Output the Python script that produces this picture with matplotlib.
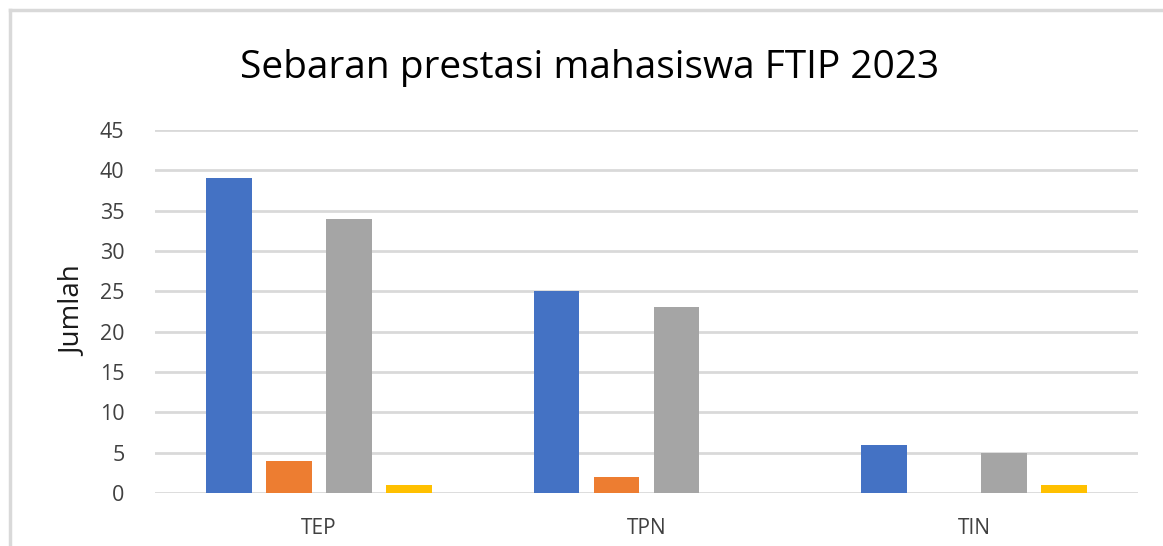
import matplotlib
matplotlib.use("Agg")
import matplotlib.pyplot as plt
from matplotlib.lines import Line2D
import numpy as np

categories = ["TEP", "TPN", "TIN"]
series_blue = [39, 25, 6]
series_orange = [4, 2, 0]
series_gray = [34, 23, 5]
series_yellow = [1, 0, 1]
series = [series_blue, series_orange, series_gray, series_yellow]
colors = ["#4472C4", "#ED7D31", "#A5A5A5", "#FFC000"]
yticks = [0, 5, 10, 15, 20, 25, 30, 35, 40, 45]

plt.rcParams['font.family'] = ['Open Sans', 'DejaVu Sans']

W, H = 1163, 546
fig = plt.figure(figsize=(W / 100, H / 100), dpi=100)
fig.patch.set_facecolor("white")

ax = fig.add_axes([155 / W, 1 - 493 / H, (1138 - 155) / W, (493 - 130) / H])
x = np.arange(len(categories))
slot = 0.183
width = 0.14
for i, (vals, c) in enumerate(zip(series, colors)):
    ax.bar(x + (i - 1.5) * slot, vals, width=width, color=c, zorder=3)

ax.set_xlim(-0.5, len(categories) - 0.5)
ax.set_ylim(0, 45)
ax.set_yticks(yticks)
ax.set_xticks(x)
ax.set_xticklabels(categories)
ax.grid(axis="y", color="#D9D9D9", linewidth=2, zorder=0)
for s in ax.spines.values():
    s.set_visible(False)
ax.tick_params(axis="y", length=0, labelsize=15.5, labelcolor="#404040", pad=22)
ax.tick_params(axis="x", length=0, labelsize=15, labelcolor="#404040", pad=18)
ax.set_ylabel("Jumlah", fontsize=20, color="#1a1a1a", labelpad=9)

fig.text(590 / W, 1 - 68 / H, "Sebaran prestasi mahasiswa FTIP 2023",
         ha="center", va="center", fontsize=28, color="#000000")

# chart-area border (partially visible)
fig.add_artist(Line2D([9.5 / W, 9.5 / W], [0, 1 - 10 / H], transform=fig.transFigure,
                      color="#D9D9D9", linewidth=2.5))
fig.add_artist(Line2D([9.5 / W, 1], [1 - 10 / H, 1 - 10 / H], transform=fig.transFigure,
                      color="#D9D9D9", linewidth=2.5))

fig.savefig("out.png", dpi=100)
